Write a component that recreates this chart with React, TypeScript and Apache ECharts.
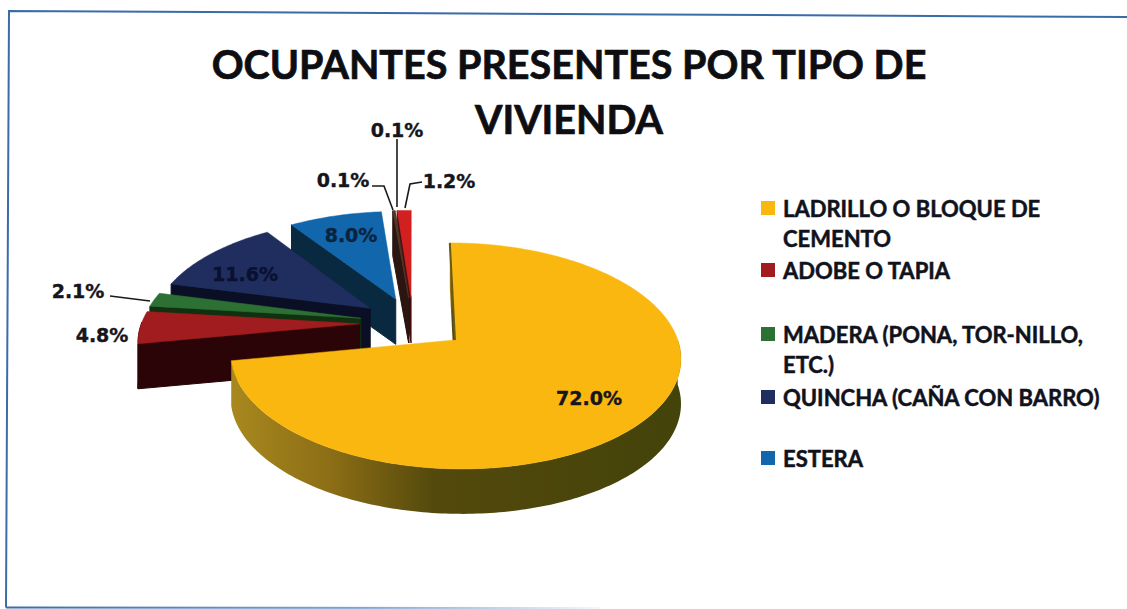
import React, { useEffect, useRef } from "react";
import * as echarts from "echarts";

const titleLines = ["OCUPANTES PRESENTES POR TIPO DE", "VIVIENDA"];
const categories = [
  "LADRILLO O BLOQUE DE CEMENTO",
  "ADOBE O TAPIA",
  "MADERA (PONA, TOR-NILLO, ETC.)",
  "QUINCHA (CAÑA CON BARRO)",
  "ESTERA",
  "OTRO MATERIAL",
  "OTRO TIPO",
  "PIEDRA O SILLAR",
];
const shares = [72.0, 4.8, 2.1, 11.6, 8.0, 0.1, 0.1, 1.2];
const topColors = ["#FAB70F", "#A11C1F", "#2C7034", "#1F2E5E", "#1267AC", "#5C3A2C", "#4A3A30", "#D1201F"];
const sideColors = ["#5A4F0E", "#2A0406", "#10300F", "#0A0F26", "#08293F", "#2A1510", "#241510", "#4A0A0A"];
const drawOrder = [7, 6, 5, 4, 3, 2, 1, 0];

const legendEntries = [
  { lines: ["LADRILLO O BLOQUE DE", "CEMENTO"], slice: 0, y: 208 },
  { lines: ["ADOBE O TAPIA"], slice: 1, y: 270 },
  { lines: ["MADERA (PONA, TOR-NILLO,", "ETC.)"], slice: 2, y: 334 },
  { lines: ["QUINCHA (CAÑA CON BARRO)"], slice: 3, y: 397 },
  { lines: ["ESTERA"], slice: 4, y: 458 },
];
// label centre in page pixels, per slice
const labelAnchors: [number, number][] = [
  [589, 398], [102, 335], [78, 291], [245, 274], [351, 235], [343, 180], [397, 130], [449, 181],
];
const leaders: [number, number][][] = [
  [[397, 139], [397, 207]],
  [[372, 186], [384, 186], [393, 210]],
  [[422, 182], [410, 184], [405, 208]],
  [[110, 296], [150, 301]],
];

// projection of the tilted pie
const CX = 413, CY = 323, RX = 218, RY = 106, PERSP = 0.138, EXPLODE = 0.245, DEPTH = 45;
const FONT_LATIN = "Lato, 'Open Sans', sans-serif";
const FONT_LABEL = "'DejaVu Sans', sans-serif";

function project(X: number, Y: number): [number, number] {
  const s = 1 / (1 - PERSP * Y);
  return [CX + RX * X * s, CY + RY * Y * s];
}
const dir = (deg: number): [number, number] => {
  const a = (deg * Math.PI) / 180;
  return [Math.sin(a), -Math.cos(a)];
};
const total = shares.reduce((a, b) => a + b, 0);
let running = 0;
const wedges = shares.map((v) => {
  const start = (running / total) * 360;
  running += v;
  return { start, end: (running / total) * 360 };
});

function wedgeGeometry(i: number) {
  const { start, end } = wedges[i];
  const [bu, bv] = dir((start + end) / 2);
  const ox = EXPLODE * bu, oy = EXPLODE * bv;
  const at = (deg: number) => {
    const [u, v] = dir(deg);
    return project(ox + u, oy + v);
  };
  const arc: [number, number][] = [];
  const steps = Math.max(2, Math.ceil(end - start));
  for (let k = 0; k <= steps; k++) arc.push(at(start + ((end - start) * k) / steps));
  const apex = project(ox, oy);
  return { apex, arc, at, start, end };
}
const drop = (p: [number, number]): [number, number] => [p[0], p[1] + DEPTH];

function renderSlice(params: any) {
  const i = drawOrder[params.dataIndex];
  const g = wedgeGeometry(i);
  const children: any[] = [];
  const side = i === 0
    ? new echarts.graphic.LinearGradient(0, 0, 1, 0, [
        { offset: 0, color: "#A8881E" },
        { offset: 0.22, color: "#8C6E16" },
        { offset: 0.45, color: "#54490C" },
        { offset: 1, color: "#43430A" },
      ])
    : sideColors[i];
  const sidePoly = (points: [number, number][]) =>
    children.push({
      type: "polygon",
      shape: { points },
      style: { fill: side, stroke: sideColors[i], lineWidth: i === 0 ? 0 : 1 },
    });
  // cut face at the start of the wedge
  if (dir(g.start - 90)[1] > -0.02) {
    const o = g.arc[0];
    sidePoly([g.apex, o, drop(o), drop(g.apex)]);
  }
  // cut face at the end of the wedge
  if (dir(g.end + 90)[1] > 0) {
    const o = g.arc[g.arc.length - 1];
    sidePoly([g.apex, o, drop(o), drop(g.apex)]);
  }
  // outer rim, front-facing part only
  const rim: [number, number][] = [];
  const n = g.arc.length - 1;
  for (let k = 0; k <= n; k++) {
    const deg = g.start + ((g.end - g.start) * k) / n;
    if (dir(deg)[1] >= -0.02) rim.push(g.arc[k]);
  }
  if (rim.length > 1) sidePoly([...rim, ...rim.slice().reverse().map(drop)]);
  // top face
  children.push({
    type: "polygon",
    shape: { points: [g.apex, ...g.arc] },
    style: { fill: topColors[i], stroke: topColors[i], lineWidth: 0.5 },
  });
  if (i === 0) {
    children.push({
      type: "polyline",
      shape: { points: [g.arc[0], g.apex] },
      style: { stroke: "#6B5A10", lineWidth: 2, fill: "none" },
    });
  }
  const [lx, ly] = labelAnchors[i];
  const ink = i === 3 ? "#0A1030" : i === 4 ? "#0A2440" : "#15151C";
  children.push({
    type: "text",
    x: lx,
    y: ly,
    style: {
      text: `${shares[i].toFixed(1)}%`,
      align: "center",
      verticalAlign: "middle",
      fill: ink,
      stroke: ink,
      lineWidth: 0.4,
      font: `bold 19px ${FONT_LABEL}`,
    },
  });
  return { type: "group", children };
}

export default function App() {
  const ref = useRef<HTMLDivElement>(null);
  useEffect(() => {
    document.body.style.margin = "0";
    document.body.style.overflow = "hidden";
    const chart = echarts.init(ref.current!, undefined, { renderer: "svg" });
    const graphics: any[] = [
      {
        type: "polyline",
        shape: { points: [[6, 607.5], [9, 11], [1127, 17]] },
        style: { stroke: "#3A6CA8", lineWidth: 2, fill: "none" },
      },
      {
        type: "line",
        shape: { x1: 6, y1: 607.5, x2: 600, y2: 608 },
        style: {
          lineWidth: 2,
          stroke: new echarts.graphic.LinearGradient(0, 0, 1, 0.0001, [
            { offset: 0, color: "#3A6CA8" },
            { offset: 0.6, color: "#7FA6D0" },
            { offset: 1, color: "#F4F8FC" },
          ]),
        },
      },
      ...titleLines.map((line, k) => ({
        type: "text",
        x: 569,
        y: 63 + k * 55,
        style: {
          text: line,
          align: "center",
          verticalAlign: "middle",
          fill: "#0E0E12",
          stroke: "#0E0E12",
          lineWidth: 0.7,
          font: `bold 39.5px ${FONT_LATIN}`,
        },
      })),
      ...leaders.map((points) => ({
        type: "polyline",
        shape: { points },
        style: { stroke: "#1A1A1A", lineWidth: 1.6, fill: "none" },
        z: 5,
      })),
    ];
    legendEntries.forEach((e) => {
      graphics.push({
        type: "rect",
        shape: { x: 761, y: e.y - 7, width: 14, height: 14 },
        style: { fill: topColors[e.slice] },
      });
      e.lines.forEach((line, k) =>
        graphics.push({
          type: "text",
          x: 783,
          y: e.y + k * 30,
          style: {
            text: line,
            align: "left",
            verticalAlign: "middle",
            fill: "#10121C",
            stroke: "#10121C",
            lineWidth: 0.5,
            font: `bold 22px ${FONT_LATIN}`,
          },
        })
      );
    });
    chart.setOption({
      animation: false,
      backgroundColor: "#FFFFFF",
      graphic: graphics,
      series: [
        {
          type: "custom",
          coordinateSystem: "none",
          renderItem: renderSlice,
          z: 3,
          data: drawOrder.map((i) => ({ name: categories[i], value: [shares[i]] })),
        },
      ],
    });
    return () => chart.dispose();
  }, []);
  return <div ref={ref} style={{ width: 1127, height: 609 }} />;
}
